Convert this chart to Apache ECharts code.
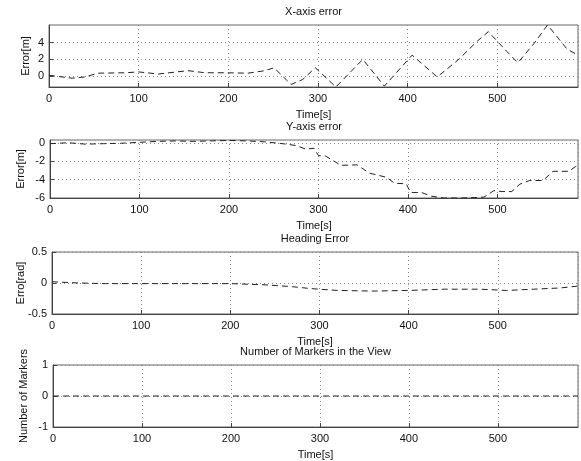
<!DOCTYPE html>
<html>
<head>
<meta charset="utf-8">
<script src="https://cdn.jsdelivr.net/npm/echarts@6/dist/echarts.min.js"></script>
<style>
  html, body { margin: 0; padding: 0; background: #fff; }
  #chart { width: 581px; height: 461px; }
</style>
</head>
<body>
<div id="chart"></div>
<script>
// time stamps [s] and values
var xErrTime = [0, 26, 40, 55, 85, 100, 122, 155, 174, 196, 222, 241, 251, 270, 283, 297, 320, 350, 374, 405, 433, 456, 478, 490, 511, 523, 541, 556, 578, 590];
var xErrVal = [0.1, -0.25, -0.1, 0.35, 0.4, 0.5, 0.25, 0.65, 0.4, 0.4, 0.35, 0.65, 1.0, -1.0, -0.4, 1.0, -1.3, 2.0, -1.2, 2.5, -0.1, 1.9, 4.2, 5.3, 2.9, 1.6, 3.9, 6.1, 3.2, 2.5];

var yErrTime = [0, 20, 40, 60, 80, 100, 120, 140, 160, 180, 200, 220, 240, 260, 275, 286, 295, 300, 308, 325, 343, 357, 376, 385, 398, 403, 415, 426, 440, 460, 474, 485, 496, 505, 516, 525, 536, 551, 562, 580, 587, 590];
var yErrVal = [-0.1, 0, -0.15, -0.1, -0.05, 0.05, 0.15, 0.2, 0.15, 0.2, 0.25, 0.2, 0.1, -0.1, -0.3, -0.7, -0.6, -1.4, -1.45, -2.45, -2.4, -3.3, -3.75, -4.4, -4.45, -5.4, -5.4, -5.8, -6, -6, -5.95, -5.9, -5.2, -5.3, -5.3, -4.5, -4.1, -4.1, -3.1, -3.1, -2.6, -2.5];

var headTime = [0, 30, 60, 100, 150, 200, 240, 270, 290, 320, 360, 400, 440, 480, 510, 540, 570, 590];
var headVal = [0.02, 0.0, -0.01, -0.01, -0.01, -0.01, -0.03, -0.06, -0.09, -0.12, -0.13, -0.12, -0.1, -0.1, -0.12, -0.1, -0.08, -0.05];

var markTime = [0, 590];
var markVal = [0, 0];

var titles = ["X-axis error", "Y-axis error", "Heading Error", "Number of Markers in the View"];
var yNames = ["Error[m]", "Error[m]", "Erro[rad]", "Number of Markers"];

var font = "Liberation Sans";
var grids = [
  { left: 49, top: 25, width: 529, height: 62, nameGap: 18 },
  { left: 50, top: 140, width: 528, height: 58, nameGap: 24 },
  { left: 52, top: 252, width: 526, height: 62, nameGap: 26 },
  { left: 53, top: 365, width: 525, height: 63, nameGap: 24 }
];
var yRanges = [
  { min: -1.3, max: 6.1, ticks: [0, 2, 4] },
  { min: -6, max: 0.3, ticks: [-6, -4, -2, 0] },
  { min: -0.5, max: 0.5, ticks: [-0.5, 0, 0.5] },
  { min: -1, max: 1, ticks: [-1, 0, 1] }
];
var seriesList = [
  [xErrTime, xErrVal],
  [yErrTime, yErrVal],
  [headTime, headVal],
  [markTime, markVal]
];

function pairs(t, v) {
  return t.map(function (x, i) { return [x, v[i]]; });
}

var chartOptions = {
  backgroundColor: "#fff",
  animation: false,
  textStyle: { fontFamily: font, color: "#000" },
  title: [],
  grid: [],
  xAxis: [],
  yAxis: [],
  series: []
};

for (var i = 0; i < 4; i++) {
  var g = grids[i];
  chartOptions.grid.push({
    left: g.left, top: g.top, width: g.width, height: g.height,
    show: true, borderColor: "#666", borderWidth: 1, backgroundColor: "#fff"
  });
  chartOptions.title.push({
    text: titles[i],
    left: g.left + g.width / 2,
    textAlign: "center",
    top: g.top - 19,
    padding: 0,
    textStyle: { fontFamily: font, fontSize: 11, fontWeight: "normal", color: "#111" }
  });
  chartOptions.xAxis.push({
    type: "value",
    gridIndex: i,
    min: 0,
    max: 590,
    interval: 100,
    name: "Time[s]",
    nameLocation: "middle",
    nameGap: 22,
    nameMoveOverlap: false,
    nameTextStyle: { fontFamily: font, fontSize: 11, color: "#111" },
    axisLine: { show: true, onZero: false, lineStyle: { color: "#444", width: 1 } },
    axisTick: { show: true, inside: true, length: 4, lineStyle: { color: "#444" } },
    axisLabel: { showMaxLabel: false, margin: 6, fontSize: 11, fontFamily: font, color: "#111" },
    splitLine: { show: true, lineStyle: { type: [1, 3], color: "#888", width: 1 } }
  });
  var r = yRanges[i];
  chartOptions.yAxis.push({
    type: "value",
    gridIndex: i,
    min: r.min,
    max: r.max,
    name: yNames[i],
    nameLocation: "middle",
    nameGap: g.nameGap,
    nameMoveOverlap: false,
    nameTextStyle: { fontFamily: font, fontSize: 11, color: "#111" },
    axisLine: { show: true, onZero: false, lineStyle: { color: "#444", width: 1 } },
    axisTick: { show: true, inside: true, length: 4, customValues: r.ticks, lineStyle: { color: "#444" } },
    axisLabel: { customValues: r.ticks, margin: 5, fontSize: 11, fontFamily: font, color: "#111" },
    splitLine: { show: true, customValues: r.ticks, lineStyle: { type: [1, 3], color: "#888", width: 1 } }
  });
  chartOptions.series.push({
    type: "line",
    xAxisIndex: i,
    yAxisIndex: i,
    data: pairs(seriesList[i][0], seriesList[i][1]),
    symbol: "none",
    lineStyle: { color: "#222", width: 1, type: [6, 4] }
  });
}

var myChart = echarts.init(document.getElementById("chart"), null, { renderer: "canvas" });
myChart.setOption(chartOptions);
</script>
</body>
</html>
